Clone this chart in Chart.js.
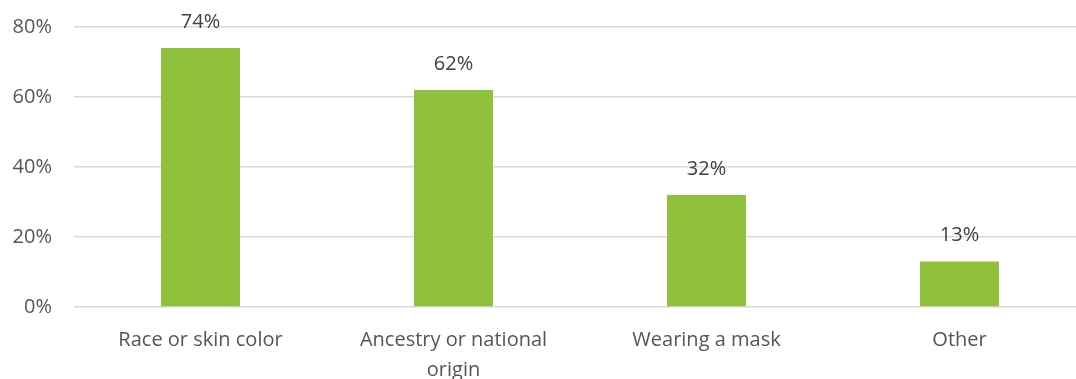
<!DOCTYPE html>
<html>
<head>
<meta charset="utf-8">
<script src="https://cdn.jsdelivr.net/npm/chart.js@4/dist/chart.umd.min.js"></script>
<style>
    html, body { margin: 0; padding: 0; background: #fff; overflow: hidden; }
    #wrap { width: 1086px; height: 379px; }
</style>
</head>
<body>
<div id="wrap"><canvas id="chart"></canvas></div>
<script>
const categories = ["Race or skin color", ["Ancestry or national", "origin"], "Wearing a mask", "Other"];
const values = [74, 62, 32, 13];
const yTicks = [0, 20, 40, 60, 80];

// draw "74%" etc. above each bar
const barLabels = {
    id: "barLabels",
    afterDatasetsDraw(chart) {
        const ctx = chart.ctx;
        const meta = chart.getDatasetMeta(0);
        ctx.save();
        ctx.font = "20px 'Open Sans'";
        ctx.fillStyle = "#404040";
        ctx.textAlign = "center";
        ctx.textBaseline = "middle";
        meta.data.forEach((bar, i) => {
            ctx.fillText(values[i] + "%", bar.x, bar.y - 26);
        });
        ctx.restore();
    }
};

new Chart(document.getElementById("chart"), {
    type: "bar",
    data: {
        labels: categories,
        datasets: [{
            data: values,
            backgroundColor: "#90C13A",
            categoryPercentage: 1,
            barPercentage: 0.312
        }]
    },
    options: {
        responsive: true,
        maintainAspectRatio: false,
        animation: false,
        layout: { padding: { top: 27, left: 0, right: 0, bottom: 0 } },
        plugins: { legend: { display: false }, tooltip: { enabled: false } },
        scales: {
            x: {
                grid: { display: false },
                border: { display: false },
                ticks: {
                    color: "#555555",
                    font: { family: "'Open Sans'", size: 20, lineHeight: 1.5 },
                    padding: 10,
                    maxRotation: 0,
                    autoSkip: false
                },
                afterFit(scale) {
                    scale.height = 72;
                    scale.paddingLeft = 0;
                    scale.paddingRight = 0;
                }
            },
            y: {
                min: 0,
                max: 80,
                afterBuildTicks(scale) { scale.ticks = yTicks.map(v => ({ value: v })); },
                grid: { color: "#d9d9d9", lineWidth: 1.5, drawTicks: false },
                border: { display: false },
                ticks: {
                    color: "#555555",
                    font: { family: "'Open Sans'", size: 20 },
                    padding: 22,
                    callback: v => v + "%"
                },
                afterFit(scale) {
                    scale.width = 74;
                    scale.paddingTop = 0;
                    scale.paddingBottom = 0;
                }
            }
        }
    },
    plugins: [barLabels]
});
</script>
</body>
</html>
